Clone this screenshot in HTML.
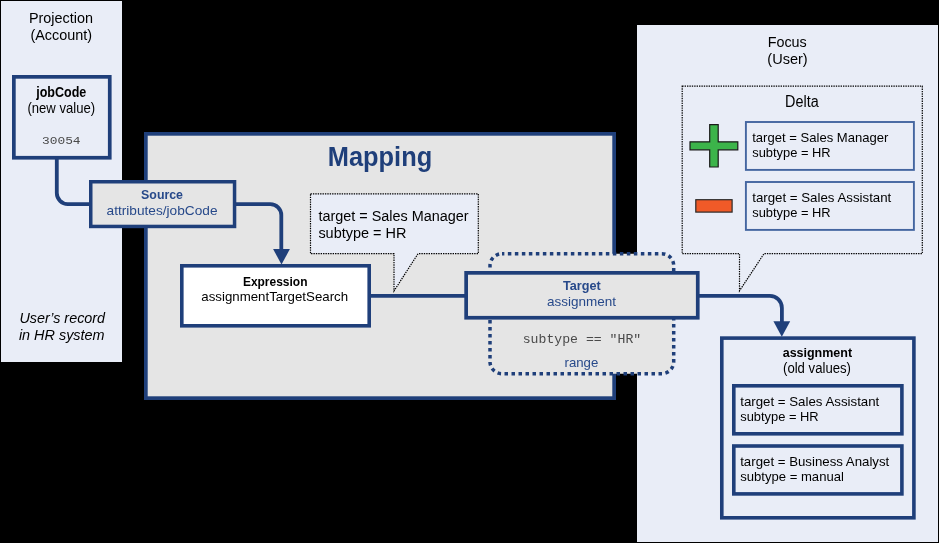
<!DOCTYPE html>
<html><head><meta charset="utf-8"><title>Mapping diagram</title>
<style>
html,body{margin:0;padding:0;background:#000;width:939px;height:543px;overflow:hidden}
svg{display:block;will-change:transform}
</style></head><body>
<svg width="939" height="543" viewBox="0 0 939 543">
<rect x="0" y="0" width="939" height="543" fill="#000"/>
<rect x="1" y="1" width="121" height="361" fill="#e9edf7"/>
<rect x="2" y="2" width="119" height="359" fill="#e9edf7"/>
<rect x="637" y="25" width="301" height="517" fill="#e9edf7"/>
<rect x="638" y="26" width="299" height="515" fill="#e9edf7"/>
<text x="28.9" y="22.8" font-size="14.9" font-weight="normal" font-style="normal" fill="#000000" style='font-family:"Liberation Sans", sans-serif' textLength="64.1" lengthAdjust="spacingAndGlyphs">Projection</text>
<text x="30.4" y="39.5" font-size="15.4" font-weight="normal" font-style="normal" fill="#000000" style='font-family:"Liberation Sans", sans-serif' textLength="61.7" lengthAdjust="spacingAndGlyphs">(Account)</text>
<rect x="13.85" y="76.85" width="95.90" height="80.90" fill="#e9edf7" stroke="#1f3f7a" stroke-width="3.7" />
<text x="36.2" y="96.6" font-size="14" font-weight="bold" font-style="normal" fill="#000000" style='font-family:"Liberation Sans", sans-serif' textLength="50.1" lengthAdjust="spacingAndGlyphs">jobCode</text>
<text x="27.4" y="113.0" font-size="14.2" font-weight="normal" font-style="normal" fill="#000000" style='font-family:"Liberation Sans", sans-serif' textLength="67.7" lengthAdjust="spacingAndGlyphs">(new value)</text>
<text x="42.0" y="143.7" font-size="11.2" font-weight="normal" font-style="normal" fill="#4a4a4a" style='font-family:"Liberation Mono", monospace' textLength="38.6" lengthAdjust="spacingAndGlyphs">30054</text>
<text x="19.4" y="322.7" font-size="15.3" font-weight="normal" font-style="italic" fill="#000000" style='font-family:"Liberation Sans", sans-serif' textLength="85.7" lengthAdjust="spacingAndGlyphs">User’s record</text>
<text x="18.9" y="340.0" font-size="15.3" font-weight="normal" font-style="italic" fill="#000000" style='font-family:"Liberation Sans", sans-serif' textLength="85.7" lengthAdjust="spacingAndGlyphs">in HR system</text>
<rect x="145.85" y="133.85" width="468.30" height="264.30" fill="#e5e5e5" stroke="#1f3f7a" stroke-width="3.7" />
<text x="327.8" y="165.6" font-size="28.2" font-weight="bold" font-style="normal" fill="#1f3f7a" style='font-family:"Liberation Sans", sans-serif' textLength="104.4" lengthAdjust="spacingAndGlyphs">Mapping</text>
<path d="M56.8,159 V193.1 A11,11 0 0 0 67.8,204.1 H90" fill="none" stroke="#1f3f7a" stroke-width="3.8"/>
<rect x="90.75" y="181.75" width="143.80" height="44.70" fill="#e5e5e5" stroke="#1f3f7a" stroke-width="3.5" />
<text x="141.1" y="198.8" font-size="13.4" font-weight="bold" font-style="normal" fill="#27498a" style='font-family:"Liberation Sans", sans-serif' textLength="41.9" lengthAdjust="spacingAndGlyphs">Source</text>
<text x="106.6" y="215.2" font-size="13.6" font-weight="normal" font-style="normal" fill="#27498a" style='font-family:"Liberation Sans", sans-serif' textLength="110.9" lengthAdjust="spacingAndGlyphs">attributes/jobCode</text>
<path d="M235,204.1 H270.3 A11,11 0 0 1 281.3,215.1 V250" fill="none" stroke="#1f3f7a" stroke-width="3.8"/>
<polygon points="273.1,249 289.9,249 281.5,264.6" fill="#1f3f7a"/>
<path d="M310.5,193.8 H478.3 V253.7 H418 L394,291 V253.7 H310.5 Z" fill="#e9edf7" stroke="#000" stroke-width="1.2" stroke-dasharray="1.4 1"/>
<text x="318.4" y="220.8" font-size="15.3" font-weight="normal" font-style="normal" fill="#000000" style='font-family:"Liberation Sans", sans-serif' textLength="150.2" lengthAdjust="spacingAndGlyphs">target = Sales Manager</text>
<text x="318.4" y="237.8" font-size="15.3" font-weight="normal" font-style="normal" fill="#000000" style='font-family:"Liberation Sans", sans-serif' textLength="88.0" lengthAdjust="spacingAndGlyphs">subtype = HR</text>
<rect x="181.80" y="265.80" width="187.40" height="60.00" fill="#ffffff" stroke="#1f3f7a" stroke-width="3.6" />
<text x="242.9" y="285.9" font-size="13.2" font-weight="bold" font-style="normal" fill="#000000" style='font-family:"Liberation Sans", sans-serif' textLength="64.6" lengthAdjust="spacingAndGlyphs">Expression</text>
<text x="201.3" y="301.0" font-size="13.6" font-weight="normal" font-style="normal" fill="#000000" style='font-family:"Liberation Sans", sans-serif' textLength="146.8" lengthAdjust="spacingAndGlyphs">assignmentTargetSearch</text>
<path d="M370,295.8 H465" fill="none" stroke="#1f3f7a" stroke-width="3.8"/>
<path d="M682.2,86.2 H922.3 V253.7 H764 L739.5,290.8 V253.7 H682.2 Z" fill="#e9edf7" stroke="#000" stroke-width="1.2" stroke-dasharray="1.4 1"/>
<text x="767.7" y="46.7" font-size="15.4" font-weight="normal" font-style="normal" fill="#000000" style='font-family:"Liberation Sans", sans-serif' textLength="39.1" lengthAdjust="spacingAndGlyphs">Focus</text>
<text x="767.3" y="64.0" font-size="15.4" font-weight="normal" font-style="normal" fill="#000000" style='font-family:"Liberation Sans", sans-serif' textLength="40.4" lengthAdjust="spacingAndGlyphs">(User)</text>
<text x="785.1" y="106.7" font-size="15.6" font-weight="normal" font-style="normal" fill="#000000" style='font-family:"Liberation Sans", sans-serif' textLength="33.6" lengthAdjust="spacingAndGlyphs">Delta</text>
<rect x="745.9" y="122" width="168" height="47.9" fill="#e9edf7" stroke="#4465a0" stroke-width="1.9"/>
<rect x="745.9" y="182" width="168" height="47.9" fill="#e9edf7" stroke="#4465a0" stroke-width="1.9"/>
<text x="752.2" y="142.2" font-size="13" font-weight="normal" font-style="normal" fill="#000000" style='font-family:"Liberation Sans", sans-serif' textLength="136.2" lengthAdjust="spacingAndGlyphs">target = Sales Manager</text>
<text x="752.2" y="157.0" font-size="13" font-weight="normal" font-style="normal" fill="#000000" style='font-family:"Liberation Sans", sans-serif' textLength="78.4" lengthAdjust="spacingAndGlyphs">subtype = HR</text>
<text x="752.2" y="201.6" font-size="13" font-weight="normal" font-style="normal" fill="#000000" style='font-family:"Liberation Sans", sans-serif' textLength="139.1" lengthAdjust="spacingAndGlyphs">target = Sales Assistant</text>
<text x="752.2" y="216.9" font-size="13" font-weight="normal" font-style="normal" fill="#000000" style='font-family:"Liberation Sans", sans-serif' textLength="78.4" lengthAdjust="spacingAndGlyphs">subtype = HR</text>
<path d="M709.7,124.7 H718.2 V141.8 H737.8 V149.8 H718.2 V167 H709.7 V149.8 H690 V141.8 H709.7 Z" fill="#3cb44a" stroke="#1a1a1a" stroke-width="1.2"/>
<rect x="695.8" y="199.7" width="36.3" height="12.4" fill="#f05a28" stroke="#2a2a2a" stroke-width="1.2"/>
<rect x="490" y="253.7" width="183.7" height="120" rx="12" ry="12" fill="#e5e5e5" stroke="#1f3f7a" stroke-width="3.5" stroke-dasharray="3.5 3.5" stroke-dashoffset="1.15"/>
<text x="522.7" y="342.9" font-size="13" font-weight="normal" font-style="normal" fill="#4a4a4a" style='font-family:"Liberation Mono", monospace' textLength="118.5" lengthAdjust="spacingAndGlyphs">subtype == &quot;HR&quot;</text>
<text x="564.5" y="367.3" font-size="13.3" font-weight="normal" font-style="normal" fill="#27498a" style='font-family:"Liberation Sans", sans-serif' textLength="33.8" lengthAdjust="spacingAndGlyphs">range</text>
<rect x="466.15" y="272.85" width="231.60" height="44.90" fill="#e5e5e5" stroke="#1f3f7a" stroke-width="3.7" />
<text x="563.0" y="289.9" font-size="13.3" font-weight="bold" font-style="normal" fill="#27498a" style='font-family:"Liberation Sans", sans-serif' textLength="37.7" lengthAdjust="spacingAndGlyphs">Target</text>
<text x="547.0" y="306.0" font-size="13" font-weight="normal" font-style="normal" fill="#27498a" style='font-family:"Liberation Sans", sans-serif' textLength="69.0" lengthAdjust="spacingAndGlyphs">assignment</text>
<path d="M698.6,295.9 H769.9 A12,12 0 0 1 781.9,307.9 V322" fill="none" stroke="#1f3f7a" stroke-width="3.8"/>
<polygon points="773.4,321.3 790.2,321.3 781.8,336.8" fill="#1f3f7a"/>
<rect x="721.80" y="338.10" width="192.10" height="179.70" fill="#e9edf7" stroke="#1f3f7a" stroke-width="3.6" />
<text x="782.7" y="357.4" font-size="12" font-weight="bold" font-style="normal" fill="#000000" style='font-family:"Liberation Sans", sans-serif' textLength="69.4" lengthAdjust="spacingAndGlyphs">assignment</text>
<text x="783.0" y="372.6" font-size="14" font-weight="normal" font-style="normal" fill="#000000" style='font-family:"Liberation Sans", sans-serif' textLength="68.0" lengthAdjust="spacingAndGlyphs">(old values)</text>
<rect x="733.80" y="385.80" width="168.10" height="48.00" fill="#e9edf7" stroke="#1f3f7a" stroke-width="3.6" />
<rect x="733.80" y="446.00" width="168.10" height="47.90" fill="#e9edf7" stroke="#1f3f7a" stroke-width="3.6" />
<text x="740.2" y="406.2" font-size="13" font-weight="normal" font-style="normal" fill="#000000" style='font-family:"Liberation Sans", sans-serif' textLength="139.1" lengthAdjust="spacingAndGlyphs">target = Sales Assistant</text>
<text x="740.2" y="421.0" font-size="13" font-weight="normal" font-style="normal" fill="#000000" style='font-family:"Liberation Sans", sans-serif' textLength="78.4" lengthAdjust="spacingAndGlyphs">subtype = HR</text>
<text x="740.2" y="465.6" font-size="13" font-weight="normal" font-style="normal" fill="#000000" style='font-family:"Liberation Sans", sans-serif' textLength="149.1" lengthAdjust="spacingAndGlyphs">target = Business Analyst</text>
<text x="740.2" y="480.9" font-size="13" font-weight="normal" font-style="normal" fill="#000000" style='font-family:"Liberation Sans", sans-serif' textLength="103.7" lengthAdjust="spacingAndGlyphs">subtype = manual</text>
</svg>
</body></html>
